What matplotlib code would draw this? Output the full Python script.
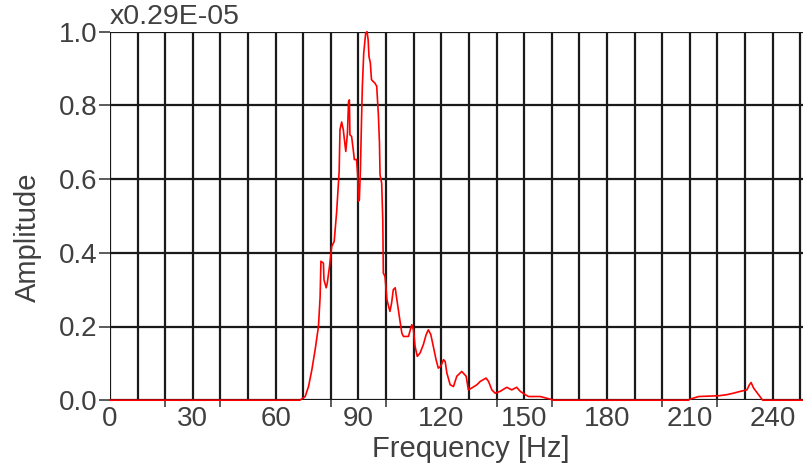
import matplotlib
matplotlib.use("Agg")
import matplotlib.pyplot as plt
import numpy as np

plt.rcParams['font.family'] = ['Liberation Sans', 'DejaVu Sans']

freq = [0, 20, 40, 60, 68.8, 70.7, 71.9, 73.1, 74.3, 75.5, 76.1, 76.4, 77.3, 77.5, 78.3, 78.7,
        79.5, 80.3, 81.2, 82.1, 83.0, 83.3, 83.9, 84.5, 84.9, 85.4, 86.0, 86.4, 86.7, 86.9,
        87.5, 88.1, 88.5, 89.3, 89.7, 90.0, 90.3, 90.7, 91.1, 91.4, 91.9, 92.6, 93.1, 93.5,
        93.8, 94.3, 94.7, 95.3, 95.9, 96.6, 97.2, 97.6, 97.8, 98.4, 98.8, 99.0, 99.6, 100.3,
        100.9, 101.4, 102.0, 102.6, 103.3, 103.9, 104.8, 105.7, 106.3, 108.1, 109.3, 109.9,
        110.5, 111.3, 112.3, 113.5, 114.5, 115.3, 116.2, 117.1, 118.1, 118.9, 119.8, 120.8,
        121.4, 122.0, 123.2, 124.4, 125.6, 127.4, 129.0, 129.8, 131.0, 132.9, 134.1, 136.2,
        137.1, 138.3, 139.5, 141.3, 143.7, 145.5, 147.3, 148.6, 150.4, 151.6, 155.8, 159.4,
        160.5, 180, 200, 209.5, 210.1, 213.2, 220.4, 223.4, 225.8, 228.3, 230.7, 231.6, 232.2,
        233.1, 234.9, 236.4, 240, 251]
amp = [0, 0, 0, 0, 0.0, 0.01, 0.037, 0.082, 0.137, 0.2, 0.28, 0.377, 0.372, 0.327, 0.305, 0.318,
       0.363, 0.417, 0.431, 0.512, 0.621, 0.734, 0.755, 0.734, 0.707, 0.675, 0.725, 0.811, 0.815, 0.72,
       0.716, 0.68, 0.653, 0.653, 0.612, 0.54, 0.544, 0.625, 0.761, 0.852, 0.942, 0.996, 1.0, 0.978,
       0.933, 0.915, 0.87, 0.865, 0.861, 0.852, 0.775, 0.698, 0.612, 0.589, 0.49, 0.345, 0.336, 0.273,
       0.255, 0.241, 0.264, 0.3, 0.305, 0.273, 0.227, 0.182, 0.173, 0.173, 0.205, 0.191,
       0.146, 0.119, 0.128, 0.151, 0.178, 0.191, 0.178, 0.146, 0.11, 0.087, 0.092, 0.11,
       0.105, 0.074, 0.042, 0.037, 0.065, 0.078, 0.065, 0.028, 0.033, 0.042, 0.051, 0.06,
       0.051, 0.028, 0.019, 0.024, 0.035, 0.028, 0.035, 0.024, 0.015, 0.01, 0.01, 0.003,
       0.0, 0.0, 0.0, 0.0, 0.003, 0.01, 0.012, 0.015, 0.019, 0.024, 0.028, 0.042, 0.048,
       0.033, 0.015, 0.0, 0.0, 0.0]

xticks = [0, 30, 60, 90, 120, 150, 180, 210, 240]
yticks = [0.0, 0.2, 0.4, 0.6, 0.8, 1.0]
scale_text = "x0.29E-05"

fig = plt.figure(figsize=(8.04, 4.70), dpi=100)
ax = fig.add_axes([110/804, 1-400.2/470, 693/804, 368.5/470])
ax.set_xlim(0, 251)
ax.set_ylim(0, 1.0)

# grid
for xv in np.arange(0, 251, 10):
    ax.axvline(xv, color='#1a1a1a', lw=1.6, zorder=1)
for yv in yticks:
    ax.axhline(yv, color='#1a1a1a', lw=1.6, zorder=1)

ax.plot(freq, amp, color='#ff0000', lw=1.2, zorder=3, clip_on=False)

for s in ax.spines.values():
    s.set_visible(False)

ax.set_xticks(xticks)
ax.set_xticklabels([str(v) for v in xticks])
ax.set_yticks(yticks)
ax.set_yticklabels([f"{v:.1f}" for v in yticks])
ax.set_xticks(np.arange(0, 251, 20), minor=True)
ax.tick_params(axis='x', which='major', length=0, pad=4, labelsize=20, labelcolor='#404040')
ax.tick_params(axis='x', which='minor', length=5, width=1.2, color='#404040')
ax.tick_params(axis='y', which='major', length=8, width=1.2, color='#404040', pad=1,
               labelsize=20, labelcolor='#404040')

ax.set_xlabel("Frequency [Hz]", fontsize=21, color='#404040')
ax.xaxis.set_label_coords(0.52, -0.095)
ax.set_ylabel("Amplitude", fontsize=21, color='#404040')
ax.yaxis.set_label_coords(-0.098, 0.443)

ax.text(0.0, 1.005, scale_text, transform=ax.transAxes, fontsize=20.5, color='#404040',
        ha='left', va='bottom')

fig.savefig("out.png", dpi=100)
